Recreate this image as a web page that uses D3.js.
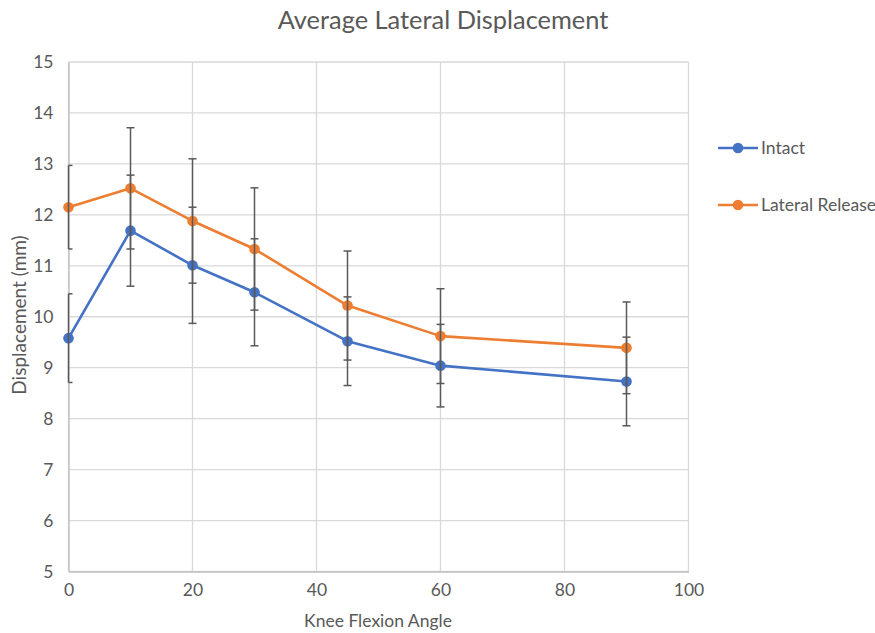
<!DOCTYPE html>
<html><head><meta charset="utf-8">
<script src="https://cdn.jsdelivr.net/npm/d3@7"></script>
<style>body{margin:0;background:#fff;} text{font-family:Lato,"Open Sans",sans-serif;}</style>
</head><body><svg id="c" width="875" height="633"></svg>
<script>
const angles = [0, 10, 20, 30, 45, 60, 90];
const intact = [9.58, 11.69, 11.01, 10.48, 9.52, 9.04, 8.73];
const intactErr = [0.87, 1.09, 1.14, 1.05, 0.87, 0.81, 0.87];
const lateral = [12.15, 12.52, 11.88, 11.33, 10.22, 9.62, 9.39];
const lateralErr = [0.82, 1.19, 1.22, 1.20, 1.07, 0.93, 0.90];
const xTicks = [0, 20, 40, 60, 80, 100];
const yTicks = [5, 6, 7, 8, 9, 10, 11, 12, 13, 14, 15];
const seriesNames = ["Intact", "Lateral Release"];
const colors = ["#4472C4", "#ED7D31"];

const svg = d3.select("#c");
const x = d3.scaleLinear().domain([0, 100]).range([68.5, 688.5]);
const y = d3.scaleLinear().domain([5, 15]).range([571.5, 62]);
const txt = "#595959";
const fs = "17.5px";

// gridlines
svg.append("g").selectAll("line.h").data(yTicks).join("line")
  .attr("x1", x(0)).attr("x2", x(100)).attr("y1", d => y(d)).attr("y2", d => y(d))
  .attr("stroke", "#d9d9d9").attr("stroke-width", 1.3);
svg.append("g").selectAll("line.v").data(xTicks).join("line")
  .attr("y1", y(5)).attr("y2", y(15)).attr("x1", d => x(d)).attr("x2", d => x(d))
  .attr("stroke", "#d9d9d9").attr("stroke-width", 1.3);

// axes
const xAxis = svg.append("g").attr("transform", `translate(0,${y(5)})`)
  .call(d3.axisBottom(x).tickValues(xTicks).tickSize(0).tickPadding(12));
xAxis.select(".domain").attr("stroke", "#bfbfbf").attr("stroke-width", 1.3);
xAxis.selectAll("text").attr("fill", txt).style("font-size", fs);
const yAxis = svg.append("g").attr("transform", `translate(${x(0)},0)`)
  .call(d3.axisLeft(y).tickValues(yTicks).tickSize(0).tickPadding(15));
yAxis.select(".domain").attr("stroke", "#bfbfbf").attr("stroke-width", 1.3);
yAxis.selectAll("text").attr("fill", txt).style("font-size", fs);

// titles
svg.append("text").attr("x", 443).attr("y", 29).attr("text-anchor", "middle")
  .attr("fill", txt).style("font-size", "25.4px").text("Average Lateral Displacement");
svg.append("text").attr("x", 378).attr("y", 627).attr("text-anchor", "middle")
  .attr("fill", txt).style("font-size", fs).text("Knee Flexion Angle");
svg.append("text").attr("transform", `translate(25.5,315) rotate(-90)`).attr("text-anchor", "middle")
  .attr("fill", txt).style("font-size", "19px").text("Displacement (mm)");

const series = [
  {vals: intact, err: intactErr},
  {vals: lateral, err: lateralErr}
];
const line = d3.line().x(d => x(d[0])).y(d => y(d[1]));

series.forEach((s, i) => {
  const pts = angles.map((a, j) => [a, s.vals[j], s.err[j]]);
  const g = svg.append("g");
  g.append("path").datum(pts).attr("d", line).attr("fill", "none")
    .attr("stroke", colors[i]).attr("stroke-width", 2.6).attr("stroke-linejoin", "round");
  g.selectAll("circle").data(pts).join("circle")
    .attr("cx", d => x(d[0])).attr("cy", d => y(d[1])).attr("r", 5.3).attr("fill", colors[i]);
  const eb = g.append("g").attr("stroke", "#595959").attr("stroke-width", 1.5);
  pts.forEach(d => {
    eb.append("line").attr("x1", x(d[0])).attr("x2", x(d[0]))
      .attr("y1", y(d[1] - d[2])).attr("y2", y(d[1] + d[2]));
    [d[1] - d[2], d[1] + d[2]].forEach(v => {
      eb.append("line").attr("x1", Math.max(x(0), x(d[0]) - 4)).attr("x2", x(d[0]) + 4)
        .attr("y1", y(v)).attr("y2", y(v));
    });
  });
});

// legend
seriesNames.forEach((n, i) => {
  const ly = 148 + i * 57;
  const g = svg.append("g");
  g.append("line").attr("x1", 718).attr("x2", 758).attr("y1", ly).attr("y2", ly)
    .attr("stroke", colors[i]).attr("stroke-width", 2.6);
  g.append("circle").attr("cx", 738).attr("cy", ly).attr("r", 5.3).attr("fill", colors[i]);
  g.append("text").attr("x", 761).attr("y", ly + 6).attr("fill", txt)
    .style("font-size", fs).text(n);
});
</script></body></html>
